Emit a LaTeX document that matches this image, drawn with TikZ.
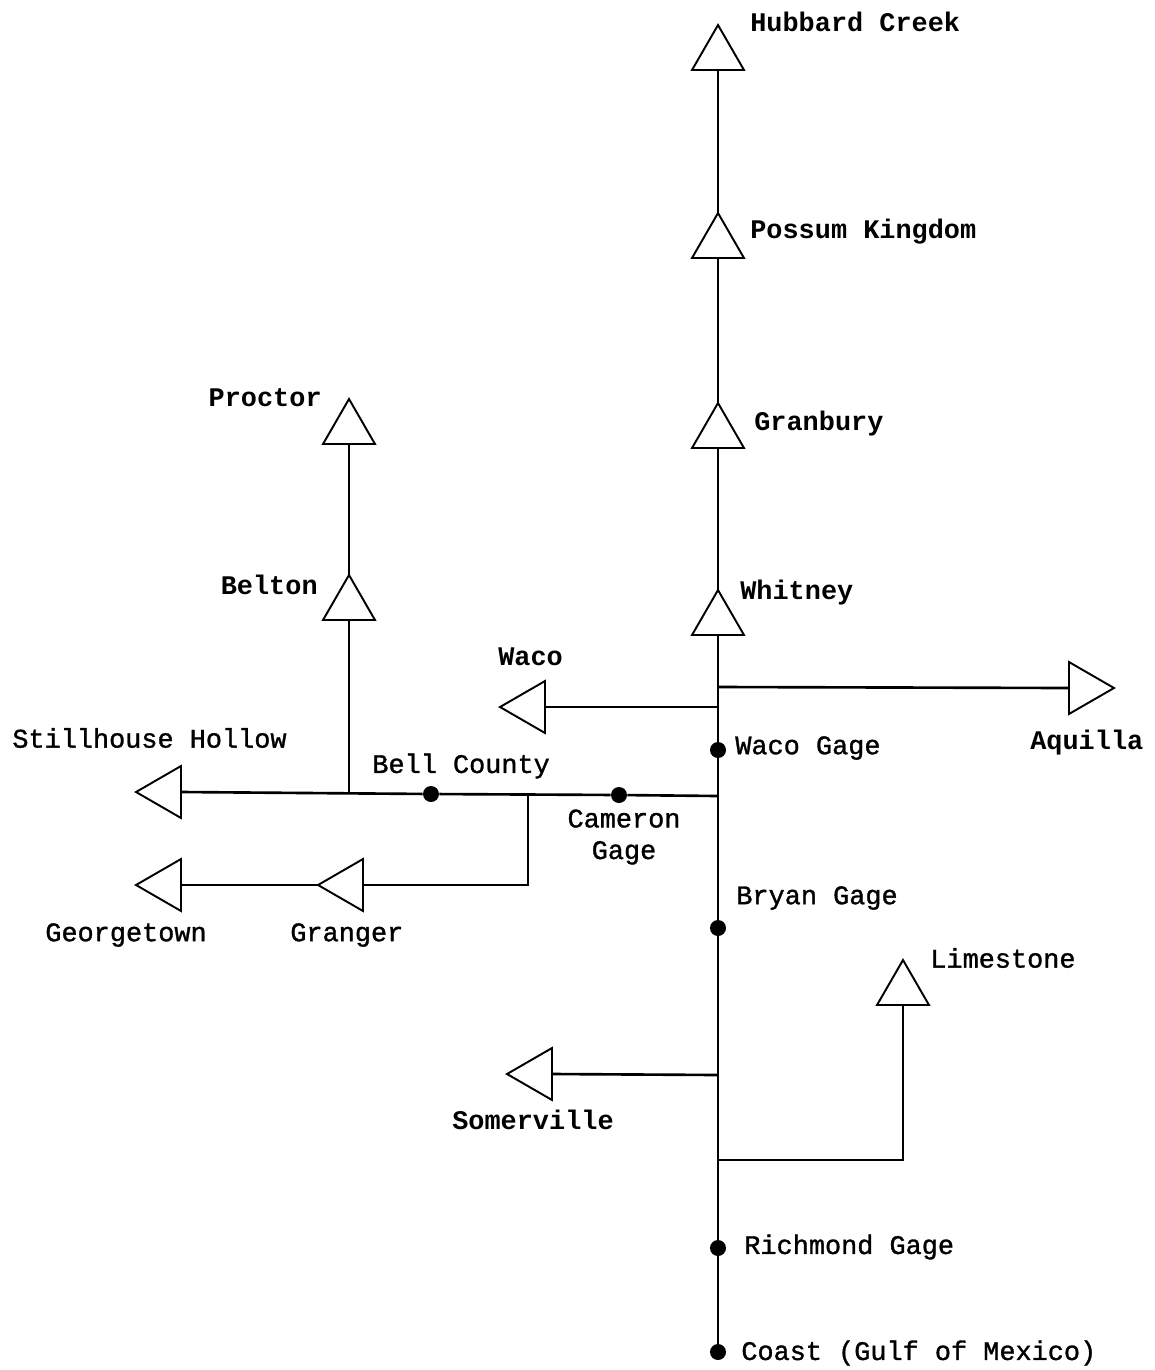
\documentclass[tikz,border=0pt]{standalone}
\usepackage{fontspec}
\setmainfont{Liberation Mono}
\newfontfamily\medfont{Liberation Mono}[FakeBold=1.2]
\usetikzlibrary{shapes.geometric,positioning}
\tikzset{
  dam/.style={draw, regular polygon, regular polygon sides=3, minimum size=1.2cm,
              inner sep=0pt, outer sep=0pt, line width=1.1pt, fill=white},
  damup/.style={dam},
  damleft/.style={dam, regular polygon rotate=90},
  damright/.style={dam, regular polygon rotate=-90},
  gage/.style={circle, fill, inner sep=0pt, minimum size=0.32cm},
  res/.style={font=\fontsize{15.3}{18}\selectfont\bfseries, inner sep=0pt},
  glbl/.style={font=\fontsize{15.3}{18}\selectfont\medfont, inner sep=0pt},
  river/.style={line width=1.5pt}
}

\begin{document}
\begin{tikzpicture}[x=0.02cm, y=-0.02cm]
    \useasboundingbox (0,0) rectangle (1154,1370);

    % reservoirs
    \node[damup] (Hubbard) at (718,55) {};
    \node[damup] (Possum) at (718,243) {};
    \node[damup] (Granbury) at (718,433) {};
    \node[damup] (Whitney) at (718,620) {};
    \node[damup] (Proctor) at (349,429) {};
    \node[damup] (Belton) at (349,605) {};
    \node[damup] (Limestone) at (903,990) {};
    \node[damleft] (Waco) at (530,707) {};
    \node[damleft] (Stillhouse) at (166,792) {};
    \node[damleft] (Georgetown) at (166,885) {};
    \node[damleft] (Granger) at (348,885) {};
    \node[damleft] (Somerville) at (537,1074) {};
    \node[damright] (Aquilla) at (1084,688) {};

    % gages
    \node[gage] (WacoGage) at (718,750) {};
    \node[gage] (BellCo) at (431,794) {};
    \node[gage] (Cameron) at (619,795) {};
    \node[gage] (BryanGage) at (718,928) {};
    \node[gage] (RichmondGage) at (718,1248) {};
    \node[gage] (Coast) at (718,1352) {};

    % junctions
    \coordinate (jAquilla) at (718,687);
    \coordinate (jWaco) at (718,707);
    \coordinate (jBell) at (718,796);
    \coordinate (jGranger) at (528,795);
    \coordinate (jSomer) at (718,1075);
    \coordinate (jLime) at (718,1160);

    % river
    \draw[river] (Hubbard.south) -- (Possum.north);
    \draw[river] (Possum.south) -- (Granbury.north);
    \draw[river] (Granbury.south) -- (Whitney.north);
    \draw[river] (Whitney.south) -- (WacoGage) -- (BryanGage)
                 -- (RichmondGage) -- (Coast);
    \draw[river] (jAquilla) -- (Aquilla.west);
    \draw[river] (jWaco) -- (Waco.east);
    \draw[river] (jBell) -- (Cameron) -- (BellCo) -- (Stillhouse.east);
    \draw[river] (Proctor.south) -- (Belton.north);
    \draw[river] (Belton.south) -- (Belton.south |- BellCo);
    \draw[river] (jGranger) |- (Granger.east);
    \draw[river] (Granger.west) -- (Georgetown.east);
    \draw[river] (jSomer) -- (Somerville.east);
    \draw[river] (jLime) -| (Limestone.south);

    % labels
    \node[res, anchor=west] (lHubbard) at (750,22) {Hubbard Creek};
    \node[res, anchor=west] (lPossum) at (750,232) {Possum Kingdom};
    \node[res, anchor=west] (lGranbury) at (754,424) {Granbury};
    \node[res, anchor=west] (lWhitney) at (740,593) {Whitney};
    \node[res, anchor=east] (lProctor) at (322,398) {Proctor};
    \node[res, anchor=east] (lBelton) at (318,585) {Belton};
    \node[res, anchor=west] (lWaco) at (498,657) {Waco};
    \node[glbl, anchor=west] (lStillhouse) at (12,738) {Stillhouse Hollow};
    \node[glbl, anchor=west] (lBellCo) at (372,766) {Bell County};
    \node[glbl, align=center] (lCameron) at (624,837) {Cameron\\Gage};
    \node[glbl, anchor=west] (lWacoGage) at (735,748) {Waco Gage};
    \node[res, anchor=west] (lAquilla) at (1030,743) {Aquilla};
    \node[glbl, anchor=west] (lGeorgetown) at (45,935) {Georgetown};
    \node[glbl, anchor=west] (lGranger) at (290,935) {Granger};
    \node[glbl, anchor=west] (lBryan) at (736,898) {Bryan Gage};
    \node[glbl, anchor=west] (lLimestone) at (930,958) {Limestone};
    \node[res, anchor=west] (lSomerville) at (452,1120) {Somerville};
    \node[glbl, anchor=west] (lRichmond) at (744,1247) {Richmond Gage};
    \node[glbl, anchor=west] (lCoast) at (741,1353) {Coast (Gulf of Mexico)};
\end{tikzpicture}
\end{document}
